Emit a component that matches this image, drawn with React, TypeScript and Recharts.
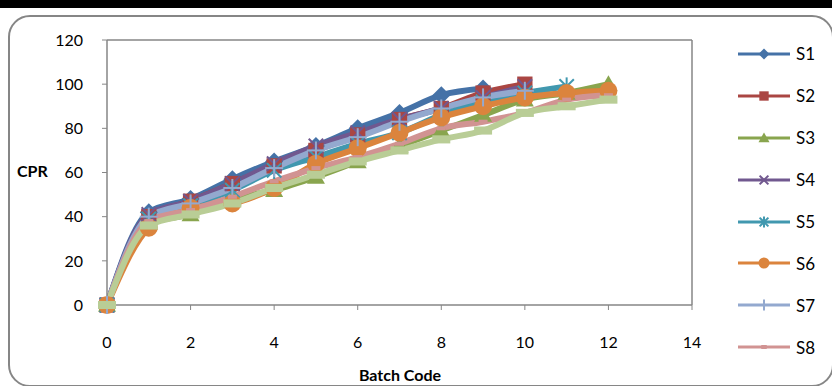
import React from 'react'
import {
  LineChart,
  Line,
  XAxis,
  YAxis,
  ReferenceLine,
} from 'recharts'

const batchCodes = [0, 1, 2, 3, 4, 5, 6, 7, 8, 9, 10, 11, 12]
const s1 = [0, 42, 48, 57, 65, 72, 80, 87, 95, 98]
const s2 = [0, 40, 47, 55, 63, 70, 77, 84, 89, 96, 100]
const s3 = [0, 37, 41, 48, 52, 58, 65, 72, 79, 86, 93, 96, 100]
const s4 = [0, 41, 47, 55, 64, 72, 78, 84, 89, 94, 99]
const s5 = [0, 39, 45, 52, 61, 67, 73, 78, 86, 92, 96, 99]
const s6 = [0, 35, 44, 46, 53, 64, 71, 78, 85, 90, 94, 96, 97]
const s7 = [0, 40, 46, 53, 62, 70, 76, 83, 89, 94, 97]
const s8 = [0, 38, 43, 49, 56, 62, 67, 73, 80, 83, 87, 93, 95]
const s9 = [0, 36, 41, 46, 53, 59, 65, 70, 75, 79, 87, 90, 93]

const xTicks = [0, 2, 4, 6, 8, 10, 12, 14]
const yTicks = [0, 20, 40, 60, 80, 100, 120]

type Shape = 'diamond' | 'square' | 'triangle' | 'x' | 'star' | 'circle' | 'plus' | 'dash' | 'longdash'

const series: { key: string; name: string; values: number[]; color: string; shape: Shape; legend: boolean }[] = [
  { key: 's1', name: 'S1', values: s1, color: '#4572A7', shape: 'diamond', legend: true },
  { key: 's2', name: 'S2', values: s2, color: '#AA4643', shape: 'square', legend: true },
  { key: 's3', name: 'S3', values: s3, color: '#89A54E', shape: 'triangle', legend: true },
  { key: 's4', name: 'S4', values: s4, color: '#71588F', shape: 'x', legend: true },
  { key: 's5', name: 'S5', values: s5, color: '#4198AF', shape: 'star', legend: true },
  { key: 's6', name: 'S6', values: s6, color: '#DB843D', shape: 'circle', legend: true },
  { key: 's7', name: 'S7', values: s7, color: '#93A9CF', shape: 'plus', legend: true },
  { key: 's8', name: 'S8', values: s8, color: '#D19392', shape: 'dash', legend: true },
  { key: 's9', name: 'S9', values: s9, color: '#B9CD96', shape: 'longdash', legend: false },
]

const data = batchCodes.map((b, i) => {
  const row: Record<string, number | undefined> = { batch: b }
  series.forEach((s) => {
    row[s.key] = s.values[i]
  })
  return row
})

const FONT = 'Lato, "Open Sans", sans-serif'
const GRAY = '#868686'

function Marker({ cx, cy, shape, color, size }: { cx: number; cy: number; shape: Shape; color: string; size: number }) {
  if (cx == null || cy == null || Number.isNaN(cx) || Number.isNaN(cy)) return null
  const h = size / 2
  switch (shape) {
    case 'diamond':
      return <polygon points={`${cx},${cy - h} ${cx + h},${cy} ${cx},${cy + h} ${cx - h},${cy}`} fill={color} />
    case 'square':
      return <rect x={cx - h * 0.85} y={cy - h * 0.85} width={h * 1.7} height={h * 1.7} fill={color} />
    case 'triangle':
      return <polygon points={`${cx},${cy - h} ${cx + h},${cy + h * 0.75} ${cx - h},${cy + h * 0.75}`} fill={color} />
    case 'circle':
      return <circle cx={cx} cy={cy} r={h} fill={color} />
    case 'x':
      return (
        <g stroke={color} strokeWidth={2}>
          <line x1={cx - h * 0.8} y1={cy - h * 0.8} x2={cx + h * 0.8} y2={cy + h * 0.8} />
          <line x1={cx - h * 0.8} y1={cy + h * 0.8} x2={cx + h * 0.8} y2={cy - h * 0.8} />
        </g>
      )
    case 'star':
      return (
        <g stroke={color} strokeWidth={2}>
          <line x1={cx - h * 0.8} y1={cy - h * 0.8} x2={cx + h * 0.8} y2={cy + h * 0.8} />
          <line x1={cx - h * 0.8} y1={cy + h * 0.8} x2={cx + h * 0.8} y2={cy - h * 0.8} />
          <line x1={cx} y1={cy - h} x2={cx} y2={cy + h} />
        </g>
      )
    case 'plus':
      return (
        <g stroke={color} strokeWidth={2}>
          <line x1={cx - h} y1={cy} x2={cx + h} y2={cy} />
          <line x1={cx} y1={cy - h} x2={cx} y2={cy + h} />
        </g>
      )
    case 'dash':
      return <rect x={cx - h * 0.5} y={cy - 2} width={h} height={4} fill={color} />
    case 'longdash':
      return <rect x={cx - h} y={cy - h * 0.45} width={h * 2} height={h * 0.9} fill={color} />
  }
  return null
}

// legend sits outside the chart so it doesn't shrink the plot area
function LegendBox() {
  const items = series.filter((s) => s.legend)
  return (
    <div style={{ position: 'absolute', left: 735, top: 33, fontSize: 17, color: '#000' }}>
      {items.map((s) => (
        <div key={s.key} style={{ height: 41.9, display: 'flex', alignItems: 'center' }}>
          <svg width={58} height={20} style={{ display: 'block' }}>
            <line x1={3} y1={10} x2={55} y2={10} stroke={s.color} strokeWidth={3} />
            <Marker cx={29} cy={10} shape={s.shape} color={s.color} size={11} />
          </svg>
          <span style={{ marginLeft: 3 }}>{s.name}</span>
        </div>
      ))}
    </div>
  )
}

export default function App() {
  return (
    <div
      style={{
        position: 'fixed',
        left: 0,
        top: 0,
        width: 832,
        height: 386,
        overflow: 'hidden',
        background: '#fff',
        fontFamily: FONT,
      }}
    >
      <style>{'body{margin:0}'}</style>
      <div style={{ position: 'absolute', left: 0, top: 0, width: 832, height: 8, background: '#000' }} />
      <div
        style={{
          position: 'absolute',
          boxSizing: 'border-box',
          left: 8,
          top: 15,
          width: 826,
          height: 372,
          border: `2px solid ${GRAY}`,
          borderRadius: 22,
        }}
      />
      <div style={{ position: 'absolute', left: 17, top: 161, fontWeight: 700, fontSize: 16 }}>CPR</div>
      <div
        style={{
          position: 'absolute',
          left: 307,
          width: 186,
          textAlign: 'center',
          top: 365,
          fontWeight: 700,
          fontSize: 16,
        }}
      >
        Batch Code
      </div>
      <div style={{ position: 'absolute', left: 0, top: 0 }}>
        <LineChart width={832} height={386} data={data} margin={{ top: 40, right: 140, bottom: 0, left: 0 }}>
          <XAxis
            dataKey="batch"
            type="number"
            domain={[0, 14]}
            ticks={xTicks}
            height={81}
            tick={{ fill: '#000', fontSize: 16, fontFamily: FONT }}
            tickSize={5}
            tickMargin={27}
            axisLine={{ stroke: GRAY, strokeWidth: 1.5 }}
            tickLine={{ stroke: GRAY }}
          />
          <YAxis
            type="number"
            domain={[0, 120]}
            ticks={yTicks}
            width={107}
            tick={{ fill: '#000', fontSize: 16, fontFamily: FONT }}
            tickSize={5}
            tickMargin={19}
            axisLine={{ stroke: GRAY, strokeWidth: 1.5 }}
            tickLine={{ stroke: GRAY }}
          />
          <ReferenceLine y={120} stroke={GRAY} strokeWidth={1.5} />
          <ReferenceLine x={14} stroke={GRAY} strokeWidth={1.5} />
          {series.map((s) => (
            <Line
              key={s.key}
              dataKey={s.key}
              name={s.name}
              type="monotone"
              stroke={s.color}
              strokeWidth={6}
              isAnimationActive={false}
              dot={(p: any) => (
                <Marker
                  key={`${s.key}-${p.index}`}
                  cx={p.cx}
                  cy={p.value == null ? (null as any) : p.cy}
                  shape={s.shape}
                  color={s.color}
                  size={18}
                />
              )}
              activeDot={false}
            />
          ))}
        </LineChart>
      </div>
      <LegendBox />
    </div>
  )
}
